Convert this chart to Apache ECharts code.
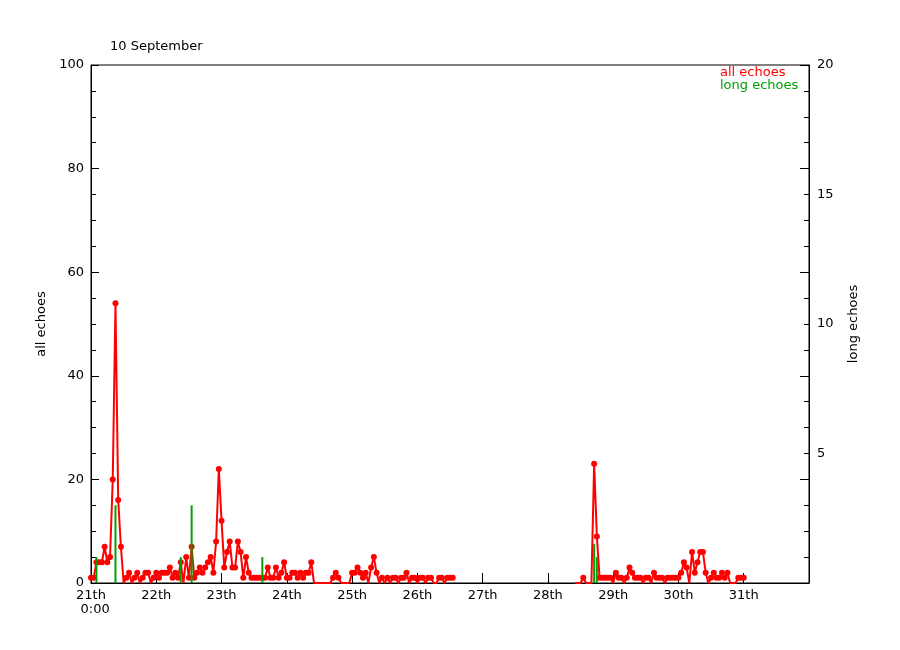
<!DOCTYPE html>
<html>
<head>
<meta charset="utf-8">
<script src="https://cdn.jsdelivr.net/npm/echarts@6/dist/echarts.min.js"></script>
<style>
html,body{margin:0;padding:0;background:#fff;}
#chart{width:900px;height:650px;}
</style>
</head>
<body>
<div id="chart"></div>
<script>
// x axis: hours since 21 September 0:00
const dayLabels = ['21th','22th','23th','24th','25th','26th','27th','28th','29th','30th','31th'];
const leftTicks = [0, 20, 40, 60, 80, 100];
const rightTickLabels = [5, 10, 15, 20];

// all echoes, hourly, first block starts at hour 0
const seg1Start = 0;
const seg1Values = [
  1,1,4,4,4,7,4,5,20,54,16,7,0,1,2,0,1,2,0,1,2,2,0,1,
  2,1,2,2,2,3,1,2,1,4,0,5,1,7,1,2,3,2,3,4,5,2,8,22,
  12,3,6,8,3,3,8,6,1,5,2,1,1,1,1,1,1,3,1,1,3,1,2,4,
  1,1,2,2,1,2,1,2,2,4,0,0,0,0,0,0,0,1,2,1,0,0,0,0,
  2,2,3,2,1,2,0,3,5,2,0,1,0,1,0,1,1,0,1,1,2,0,1,1,
  0,1,1,0,1,1,0,0,1,1,0,1,1,1
];
// second block starts at hour 178
const seg2Start = 178;
const seg2Values = [
  0,0,0,1,0,0,0,23,9,1,1,1,1,1,0,2,1,1,0,1,3,2,1,1,
  1,0,1,1,0,2,1,1,1,0,1,1,1,1,1,2,4,3,0,6,2,4,6,6,
  2,0,1,2,1,1,2,1,2,0,0,0,1,1,1
];

// long echoes (right axis)
const longHours = [2, 9, 33, 37, 63, 185, 186];
const longValues = [1, 3, 1, 3, 1, 1.5, 1];

const allData = [];
seg1Values.forEach((v, i) => allData.push([seg1Start + i, v]));
allData.push([seg1Start + seg1Values.length, '-']);
seg2Values.forEach((v, i) => allData.push([seg2Start + i, v]));
const longData = longHours.map((h, i) => [h, longValues[i]]);

const FONT = 'DejaVu Sans';
const chart = echarts.init(document.getElementById('chart'));
chart.setOption({
  animation: false,
  backgroundColor: '#fff',
  textStyle: {fontFamily: FONT},
  grid: {left: 91, right: 91, top: 65, bottom: 67, show: true, borderColor: '#000', borderWidth: 1, backgroundColor: 'transparent'},
  graphic: [
    {type: 'text', left: 110, top: 40, style: {text: '10 September', font: '13px "DejaVu Sans"', fill: '#000'}},
    {type: 'text', left: 720, top: 66, style: {text: 'all echoes', font: '13px "DejaVu Sans"', fill: '#ff0000'}},
    {type: 'text', left: 720, top: 79, style: {text: 'long echoes', font: '13px "DejaVu Sans"', fill: '#00a000'}}
  ],
  xAxis: {
    type: 'value', min: 0, max: 264, interval: 24,
    axisLine: {lineStyle: {color: '#000', width: 1}},
    axisTick: {inside: true, length: 10, lineStyle: {color: '#000'}},
    splitLine: {show: false},
    axisLabel: {
      color: '#000', fontSize: 13, fontFamily: FONT, margin: 6, lineHeight: 14,
      formatter: function (v) {
        const i = Math.round(v / 24);
        if (i === 0) return dayLabels[0] + '\n  0:00';
        return dayLabels[i] || '';
      }
    }
  },
  yAxis: [
    {
      type: 'value', position: 'left', min: 0, max: 100, interval: 20,
      name: 'all echoes', nameLocation: 'middle', nameGap: 42, nameRotate: 90,
      nameTextStyle: {color: '#000', fontSize: 13, fontFamily: FONT},
      axisLine: {show: true, lineStyle: {color: '#000'}},
      axisTick: {show: true, inside: true, length: 8, lineStyle: {color: '#000'}},
      minorTick: {show: true, splitNumber: 4, length: 5, lineStyle: {color: '#000'}},
      splitLine: {show: false},
      axisLabel: {color: '#000', fontSize: 13, fontFamily: FONT, margin: 7,
        formatter: v => leftTicks.indexOf(v) >= 0 ? String(v) : ''}
    },
    {
      type: 'value', position: 'right', min: 0, max: 20, interval: 1,
      name: 'long echoes', nameLocation: 'middle', nameGap: 38, nameRotate: 90,
      nameTextStyle: {color: '#000', fontSize: 13, fontFamily: FONT},
      axisLine: {show: true, lineStyle: {color: '#000'}},
      axisTick: {show: true, inside: true, length: 5, lineStyle: {color: '#000'}},
      splitLine: {show: false},
      axisLabel: {color: '#000', fontSize: 13, fontFamily: FONT, margin: 8,
        formatter: v => rightTickLabels.indexOf(v) >= 0 ? String(v) : ''}
    },
    {
      type: 'value', position: 'right', min: 0, max: 100, interval: 20,
      axisLine: {show: false},
      axisTick: {show: true, inside: true, length: 9, lineStyle: {color: '#000'}},
      axisLabel: {show: false},
      splitLine: {show: false}
    }
  ],
  series: [
    {
      name: 'all echoes', type: 'line', yAxisIndex: 0, data: allData,
      symbol: 'circle',
      symbolSize: function (val) { return (val && val[1] > 0) ? 6 : 0; },
      showAllSymbol: true,
      lineStyle: {color: '#ff0000', width: 2},
      itemStyle: {color: '#ff0000', borderWidth: 0},
      connectNulls: false, z: 2
    },
    {
      name: 'long echoes', type: 'bar', yAxisIndex: 1, data: longData,
      barWidth: 2, itemStyle: {color: '#00a000'}, z: 3
    }
  ]
});
</script>
</body>
</html>
